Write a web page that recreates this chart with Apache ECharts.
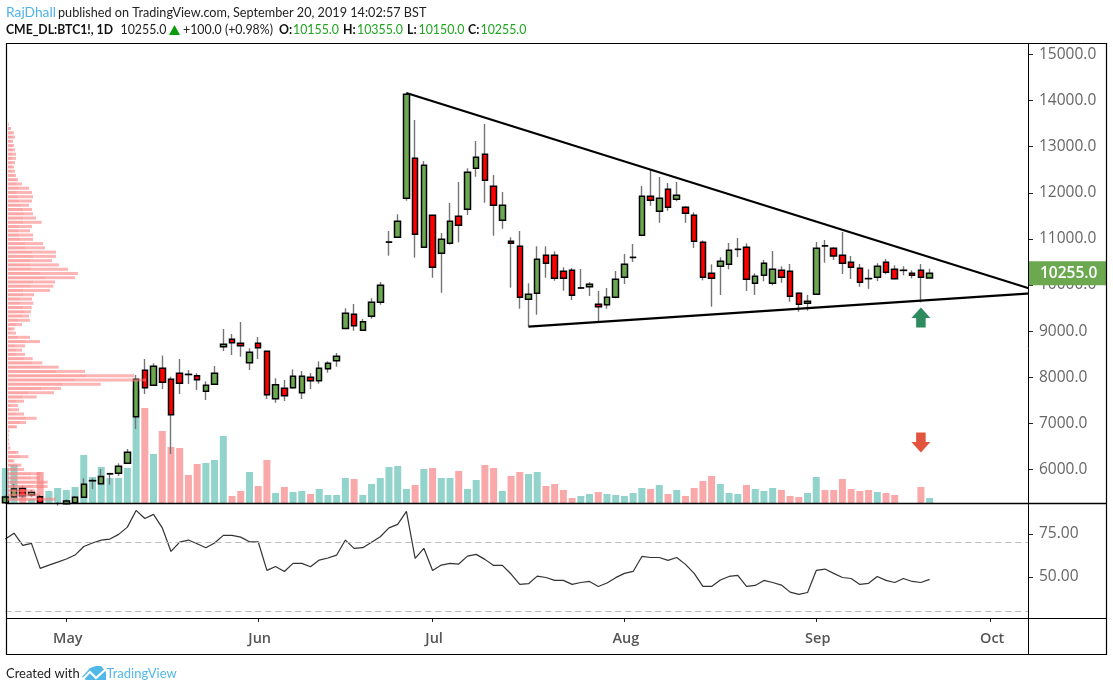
<!DOCTYPE html>
<html><head><meta charset="utf-8">
<style>html,body{margin:0;padding:0;background:#fff}#c{width:1113px;height:691px}</style>
<script src="https://cdn.jsdelivr.net/npm/echarts@6/dist/echarts.min.js"></script>
</head><body><div id="c"></div>
<script>
const opens=[5280,5410,5592,5446,5410,5230,5240,5260,5279,5396,
5755,5691,5905,5917,6134,7145,8151,7826,8195,7956,
8086,8064,8034,7695,7847,8663,8824,8737,8316,8737,
8563,7535,7760,7774,7665,7999,7926,8186,8360,9060,
9366,9019,9323,9626,10930,11036,11882,12749,10819,11513,
10689,10906,11491,11643,12533,12836,12142,11404,10949,10841,
9691,9821,10645,10645,10298,10320,9935,9964,9583,9574,
9735,10168,10598,11079,11925,11600,12077,11860,11686,11513,
10927,10255,10407,10450,10773,10819,10038,10212,10038,10320,
10298,9821,9604,9800,10851,10797,10645,10493,10363,10142,
10168,10493,10342,10318,10255,10320,10155];
const closes=[5405,5577,5432,5505,5280,5260,5265,5316,5396,5678,
5760,5851,5910,6069,6373,7956,7774,8238,7891,7189,
7869,8060,7947,7826,8086,8715,8750,8685,8542,8642,
7622,7839,7600,8021,8021,7926,8195,8303,8455,9388,
9119,9205,9626,9995,10935,11383,14137,11101,12597,10385,
10992,11383,11296,12446,12771,12272,11730,11730,10906,9735,
9800,10558,10472,10146,10146,9778,9940,10016,9531,9735,
10125,10450,10602,11925,11838,11882,11686,11947,11556,10949,
10168,10146,10515,10754,10777,10125,10190,10472,10342,10168,
9756,9583,9648,10797,10847,10630,10472,10385,10060,10138,
10407,10277,10138,10322,10212,10168,10255];
const lows=[5250,5380,5388,5410,5260,5210,5220,5240,5273,5388,
5577,5678,5670,5859,6134,6878,7637,7826,7746,6336,
7637,7854,7724,7507,7847,8570,8483,8446,8158,8396,
7529,7448,7485,7752,7529,7746,7860,8099,8229,9060,
9010,9010,9270,9574,10637,11036,11830,10594,10819,10159,
9834,10876,10927,11519,12350,11786,11070,11222,9943,9487,
9097,9357,10159,10094,9878,9676,9925,9763,9214,9487,
9713,10023,10500,11079,11721,11350,11613,11817,11350,10806,
10103,9531,9785,10341,10608,9871,9785,10082,9995,10051,
9639,9422,9444,9800,10485,10544,10240,10132,9964,9919,
10088,10233,10125,10212,10146,9626,10150];
const highs=[5440,5686,5648,5555,5446,5270,5295,5353,5424,5808,
5808,6010,5924,6134,6445,8049,8397,8303,8472,8013,
8397,8158,8086,7912,8245,9047,8939,9199,8629,8873,
8570,7978,7941,8172,8136,8092,8346,8346,8527,9496,
9589,9264,9713,10066,11173,11535,14172,13580,12690,11513,
11129,11780,12235,12533,13124,13493,12387,12018,11036,11172,
10038,10841,10841,10732,10385,10370,10348,10066,9871,9936,
10305,10673,10890,12148,12495,12343,12213,12235,11708,11578,
10970,10450,10602,10912,11021,10905,10255,10544,10738,10407,
10457,9843,9785,10934,10977,10819,11151,10630,10457,10342,
10472,10565,10428,10407,10320,10457,10355];
const volumes=[35,38,6,4,31,12,15,13,16,48,
26,36,25,25,35,114,95,49,72,56,
55,28,39,40,43,67,7,12,31,17,
43,10,16,11,12,9,14,8,8,25,
24,8,19,25,36,37,14,18,34,35,
25,25,32,14,23,38,35,12,27,31,
29,31,17,19,13,5,7,9,11,9,
8,7,10,15,14,18,9,13,7,15,
22,27,19,10,9,18,14,12,15,13,
7,6,10,26,13,13,24,14,12,13,
11,10,8,0,0,16,5];
const rsi=[72,75.4,68.3,69.5,55,56.9,58.6,60.4,62.7,67.7,
69.7,71.4,72,74.7,78.9,88.6,83.9,86.3,78.5,64.8,
70.2,71.4,69.3,66.9,69.7,74.1,74.1,73.1,70.4,70.4,
53.8,56.1,53.2,57.9,57.9,55.9,59.8,61,62.7,71.4,
66.6,67,70.2,73.3,78.5,80.5,88,60.8,66.6,53.8,
56.9,57.9,57.5,62.1,63.1,60.2,56.7,56.7,51.7,45.7,
46.1,50.5,49.7,48,48,45.7,46.8,47.4,44.5,46.5,
49.6,52.1,53.2,61.9,61.3,61.3,59.6,61.3,57.3,52.1,
44.5,44.5,48.2,50.3,50.9,44.5,45.1,48,46.8,45.3,
41.2,39.9,41,53.8,54.6,52.1,49.7,49.1,45.7,46.3,
50.3,48,46.8,49.1,47.4,46.8,48.6];
const profileInner=[1,6,12,16,9,12,14,14,14,12,12,12,18,26,26,30,27,31,33,41,46,48,46,46,34,30,34,36,51,51,74,76,66,68,71,96,111,76,66,46,46,38,38,46,48,42,31,26,12,6,31,54,21,26,26,48,72,96,146,234,201,166,101,61,46,26,11,11,26,56,36,26,1,1,1,1,2,26,36,16,28,26,71,71,81,76,56,66,86];
const profileOuter=[2,3,6,5,6,6,7,10,10,9,6,9,6,4,16,33,45,44,39,22,26,27,38,55,38,36,41,39,54,60,70,68,66,85,109,114,90,65,70,80,32,34,38,25,21,21,35,16,8,18,35,42,30,16,25,26,31,56,85,144,213,112,58,77,40,22,19,22,22,30,18,1,3,2,2,3,5,5,25,3,12,22,27,25,38,43,25,27,57];
const priceTicks=[6000,7000,8000,9000,10000,11000,12000,13000,14000,15000];
const rsiTicks=[50,75];
const rsiBands=[70,30];
const monthIndex=[7,29,49,71,93,113];
const monthNames=['May','Jun','Jul','Aug','Sep','Oct'];
const upperTrend=[[46,14165],[118,9893]];
const lowerTrend=[[60,9101],[118,9826]];
const upArrow=[[105,9296]];
const downArrow=[[105,6586]];
const lastClose=10255;

const GREEN='#6BA84F', RED='#FF0000', FONT='"Open Sans",sans-serif', HF='Lato,sans-serif';
const cats=Array.from({length:119},(_,i)=>String(i));
const upBars=opens.map((o,i)=>closes[i]>=o);
const wicks=opens.map((o,i)=>[o,closes[i],lows[i],highs[i]]);
const bodies=opens.map((o,i)=>[o,closes[i],Math.min(o,closes[i]),Math.max(o,closes[i])]);
const profileLevels=profileInner.map((_,i)=>String(i));
const arrowUpPath='path://M9 0 L18 10 L13.5 10 L13.5 19 L4.5 19 L4.5 10 L0 10 Z';
const arrowDownPath='path://M4.5 0 L13.5 0 L13.5 9 L18 9 L9 19 L0 9 L4.5 9 Z';

function txt(x,y,t,fill,weight,sx){return {type:'text',z:20,x:x,y:y,scaleX:sx||0.95,style:{text:t,fill:fill,font:(weight||'normal')+' 13px '+HF,textVerticalAlign:'middle'}};}
function seg(x1,y1,x2,y2,w){return {type:'line',z:19,shape:{x1,y1,x2,y2},style:{stroke:'#000',lineWidth:w||1}};}

const chart=echarts.init(document.getElementById('c'));
const axisCommon={z:7,axisLine:{show:false},splitLine:{show:false}};
chart.setOption({
 animation:false,backgroundColor:'#fff',
 grid:[
  {left:5.3,top:44,width:1028.96,height:459},
  {left:5.3,top:503,width:1028.96,height:115},
  {left:8,top:122.17,width:1000,height:379.2}
 ],
 xAxis:[
  {type:'category',gridIndex:0,data:cats,boundaryGap:false,show:false},
  {type:'category',gridIndex:1,data:cats,boundaryGap:false,z:7,
   axisLine:{show:false},splitLine:{show:false},
   axisTick:{length:4,lineStyle:{color:'#222',width:1},interval:i=>monthIndex.includes(+i)},
   axisLabel:{interval:i=>monthIndex.includes(+i),formatter:(v,i)=>monthNames[monthIndex.indexOf(i)]||'',
     color:'#555',fontFamily:FONT,fontSize:14.5,fontWeight:600,margin:13,padding:[0,0,0,3]}},
  {type:'value',gridIndex:2,min:0,max:3000,show:false}
 ],
 yAxis:[
  Object.assign({type:'value',gridIndex:0,position:'right',offset:-6.26,min:5274,max:15228,
   axisTick:{show:true,length:5,lineStyle:{color:'#222'},customValues:priceTicks},
   axisLabel:{show:true,customValues:priceTicks,formatter:v=>v.toFixed(1),color:'#666',fontFamily:FONT,fontSize:15.5,margin:11,padding:[5,0,0,0]}},axisCommon),
  {type:'value',gridIndex:0,min:0,max:459,show:false},
  Object.assign({type:'value',gridIndex:1,position:'right',offset:-6.26,min:26.2,max:92.9,
   axisTick:{show:true,length:5,lineStyle:{color:'#222'},customValues:rsiTicks},
   axisLabel:{show:true,customValues:rsiTicks,formatter:v=>v.toFixed(2),color:'#666',fontFamily:FONT,fontSize:15.5,margin:11,padding:[5,0,0,0]}},axisCommon),
  {type:'category',gridIndex:2,data:profileLevels,inverse:true,show:false}
 ],
 series:[
  {type:'bar',name:'Volume',xAxisIndex:0,yAxisIndex:1,z:1,barWidth:7,silent:true,
   data:volumes.map((v,i)=>({value:v,itemStyle:{color:upBars[i]?'#92D3CB':'#F9A9A9'}}))},
  {type:'candlestick',name:'Range',xAxisIndex:0,yAxisIndex:0,z:2,barWidth:1,silent:true,data:wicks,
   itemStyle:{color:'#757575',color0:'#757575',borderColor:'#757575',borderColor0:'#757575',borderWidth:1.4}},
  {type:'candlestick',name:'BTC1!',xAxisIndex:0,yAxisIndex:0,z:3,barWidth:6,silent:true,data:bodies,
   itemStyle:{color:GREEN,color0:RED,borderColor:'#000',borderColor0:'#000',borderWidth:1.5}},
  {type:'bar',name:'Profile A',xAxisIndex:2,yAxisIndex:3,z:4,stack:'p',barWidth:3,silent:true,
   itemStyle:{color:'rgba(250,125,125,0.68)'},data:profileInner},
  {type:'bar',name:'Profile B',xAxisIndex:2,yAxisIndex:3,z:4,stack:'p',barWidth:3,silent:true,
   itemStyle:{color:'rgba(250,125,125,0.58)'},data:profileOuter},
  {type:'line',name:'Upper trend',xAxisIndex:0,yAxisIndex:0,z:5,symbol:'none',silent:true,data:upperTrend,lineStyle:{color:'#000',width:2.2}},
  {type:'line',name:'Lower trend',xAxisIndex:0,yAxisIndex:0,z:5,symbol:'none',silent:true,data:lowerTrend,lineStyle:{color:'#000',width:2.2}},
  {type:'scatter',name:'Up',xAxisIndex:0,yAxisIndex:0,z:5,symbol:arrowUpPath,symbolSize:[19,20],silent:true,data:upArrow,itemStyle:{color:'#2E8B5E',opacity:1}},
  {type:'scatter',name:'Down',xAxisIndex:0,yAxisIndex:0,z:5,symbol:arrowDownPath,symbolSize:[19,20],silent:true,data:downArrow,itemStyle:{color:'#E2543E',opacity:1}},
  {type:'line',name:'RSI',xAxisIndex:1,yAxisIndex:2,z:3,symbol:'none',silent:true,data:rsi,lineStyle:{color:'#333',width:1.2},
   markLine:{silent:true,symbol:'none',label:{show:false},lineStyle:{color:'#bdbdbd',type:[6,4],width:1},data:rsiBands.map(v=>({yAxis:v}))}}
 ]
});
const py=chart.convertToPixel({yAxisIndex:0},lastClose);
chart.setOption({graphic:{elements:[
 {type:'rect',z:6,shape:{x:1028.5,y:44,width:77,height:610},style:{fill:'#fff'}},
 {type:'rect',z:18,shape:{x:1028,y:py-12,width:78,height:24},style:{fill:GREEN}},
 {type:'text',z:19,x:1040,y:py,style:{text:lastClose.toFixed(1),fill:'#fff',font:'600 15.5px '+FONT,textVerticalAlign:'middle'}},
 {type:'rect',z:19,shape:{x:6.5,y:43.5,width:1100,height:611},style:{fill:'none',stroke:'#000',lineWidth:1.2}},
 seg(1028.5,43,1028.5,654),seg(6,503.5,1106,503.5,1.5),seg(6,618.5,1106,618.5),
 txt(6,13,'RajDhall','#4DB3E6','normal',1.06),
 txt(58,13,'published on TradingView.com, September 20, 2019 14:02:57 BST','#222','normal',0.974),
 txt(6,30,'CME_DL:BTC1!, 1D','#111','bold',0.94),
 txt(120.5,30,'10255.0','#222'),
 {type:'polygon',z:20,shape:{points:[[169,35],[180,35],[174.5,25]]},style:{fill:'#0A9A0A'}},
 txt(183,30,'+100.0 (+0.98%)','#222'),
 txt(279,30,'O:','#111','bold'),txt(293,30,'10155.0','#1FA51F'),
 txt(343,30,'H:','#111','bold'),txt(357,30,'10355.0','#1FA51F'),
 txt(407,30,'L:','#111','bold'),txt(418.5,30,'10150.0','#1FA51F'),
 txt(468,30,'C:','#111','bold'),txt(480.5,30,'10255.0','#1FA51F'),
 txt(6,674,'Created with','#222','normal',1),
 {type:'polygon',z:20,shape:{points:[[82,677],[90,668],[96,666],[101,666],[106,672],[106,680],[86,680]]},style:{fill:'#52B8E8'}},
 {type:'polyline',z:21,shape:{points:[[82,680],[90,672],[96,678],[106,669]]},style:{stroke:'#fff',lineWidth:2,fill:'none'}},
 txt(106.5,674,'TradingView','#52B8E8','normal',1)
]}});
</script></body></html>
